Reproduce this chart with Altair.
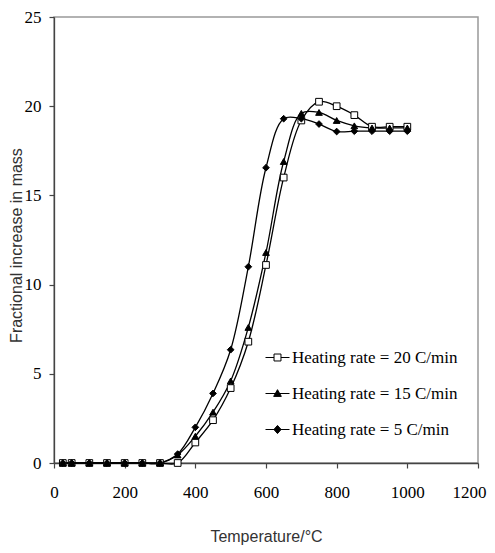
import altair as alt
import pandas as pd

temps = [25, 50, 100, 150, 200, 250, 300, 350, 400, 450, 500, 550, 600,
         650, 700, 750, 800, 850, 900, 950, 1000]
rate20 = [0, 0, 0, 0, 0, 0, 0, 0, 1.15, 2.4, 4.2, 6.8, 11.1, 16.0, 19.2,
          20.25, 20.0, 19.5, 18.85, 18.85, 18.85]
rate15 = [0, 0, 0, 0, 0, 0, 0, 0.45, 1.5, 2.85, 4.6, 7.6, 11.8, 16.9, 19.6,
          19.65, 19.2, 18.9, 18.78, 18.78, 18.78]
rate5 = [0, 0, 0, 0, 0, 0, 0, 0.5, 2.0, 3.9, 6.35, 11.0, 16.55, 19.3, 19.3,
         19.0, 18.58, 18.6, 18.6, 18.6, 18.6]

series_names = ["Heating rate = 20 C/min", "Heating rate = 15 C/min",
                "Heating rate = 5 C/min"]
series_values = [rate20, rate15, rate5]

marker_shapes = ["square", "triangle-up", "diamond"]
marker_fills = ["white", "black", "black"]
legend_shapes = [
    "M-1,0H-0.29M0.29,0H1M-0.29,-0.29H0.29V0.29H-0.29Z",
    "M-1,0H1M0,-0.32L0.32,0.24H-0.32Z",
    "M-1,0H1M0,-0.34L0.3,0L0,0.34L-0.3,0Z",
]

rows = []
for name, vals in zip(series_names, series_values):
    for t, v in zip(temps, vals):
        rows.append({"T": t, "v": v, "rate": name})
df = pd.DataFrame(rows)

x_enc = alt.X("T:Q", scale=alt.Scale(domain=[0, 1200], nice=False),
              axis=alt.Axis(values=list(range(0, 1201, 200)), format="d",
                            title="Temperature/°C", labelFlush=False,
                            labelAlign={"condition": {"test": "datum.value === 1200", "value": "right"},
                                        "value": "center"},
                            labelOffset={"condition": {"test": "datum.value === 1200", "value": 8},
                                         "value": 0},
                            titleY=78, titleBaseline="alphabetic",
                            labelPadding=16))
y_enc = alt.Y("v:Q", scale=alt.Scale(domain=[0, 25], nice=False),
              axis=alt.Axis(values=list(range(0, 26, 5)), title="Fractional increase in mass",
                            titleX=-38, titleY=228, titleAngle=270, labelFlush=False,
                            titleBaseline="middle", titleAlign="center",
                            labelPadding=8))

base = alt.Chart(df)

lines = base.mark_line(interpolate="catmull-rom", color="black", strokeWidth=1.3).encode(
    x=x_enc, y=y_enc, detail="rate:N")

points = base.mark_point(filled=True, stroke="black", strokeWidth=1, opacity=1, size=45).encode(
    x=x_enc, y=y_enc,
    shape=alt.Shape("rate:N", scale=alt.Scale(domain=series_names, range=marker_shapes), legend=None),
    fill=alt.Fill("rate:N", scale=alt.Scale(domain=series_names, range=marker_fills), legend=None),
)

legend_cfg = dict(title=None, orient="none", legendX=211, legendY=328, padding=0,
                  symbolSize=576, symbolStrokeWidth=1,
                  labelFont="Liberation Serif", labelFontSize=17, labelColor="black",
                  labelOffset=2, rowPadding=15, labelLimit=0)

legend_layer = base.transform_filter("datum.T < 0").mark_point(
    filled=True, strokeWidth=1, opacity=1).encode(
    x=x_enc, y=y_enc,
    shape=alt.Shape("rate:N", scale=alt.Scale(domain=series_names, range=legend_shapes),
                    legend=alt.Legend(**legend_cfg)),
    fill=alt.Fill("rate:N", scale=alt.Scale(domain=series_names, range=marker_fills),
                  legend=alt.Legend(**legend_cfg)),
    stroke=alt.Stroke("rate:N", scale=alt.Scale(domain=series_names, range=["black"] * 3),
                      legend=alt.Legend(**legend_cfg)),
)

chart = alt.layer(lines, points, legend_layer).resolve_scale(
    shape="independent", fill="independent", stroke="independent"
).properties(
    width=424, height=446,
    autosize=alt.AutoSizeParams(type="none"),
    padding={"left": 46, "top": 9, "right": 9, "bottom": 82},
).configure_view(
    stroke="#999999", strokeWidth=1.5
).configure_axis(
    grid=False, domainColor="#444444", domainWidth=1.3, tickColor="#444444",
    tickSize=5, tickWidth=1.2,
    labelFont="Liberation Serif", labelFontSize=17, labelColor="black",
    titleFont="Liberation Sans", titleFontSize=16, titleFontWeight="normal",
    titleColor="#333333",
)

chart.save("out.html", embed_options={"renderer": "svg", "actions": False})
